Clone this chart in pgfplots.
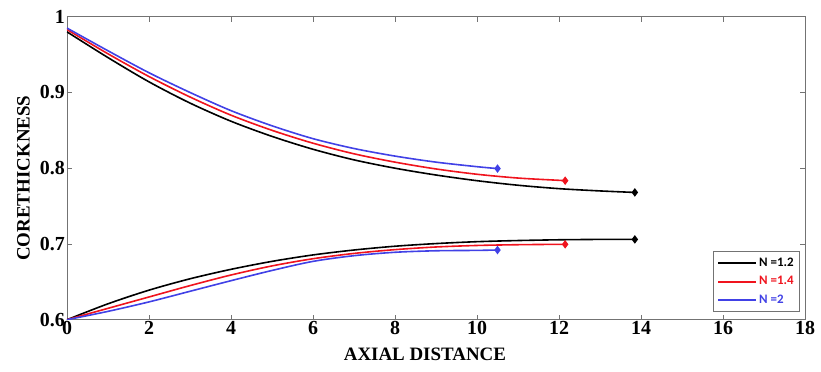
\documentclass[border=0pt]{standalone}
\usepackage{pgfplots}
\pgfplotsset{compat=1.18}
\usepackage{fontspec}
\setmainfont{Liberation Serif}
\newfontfamily\legfont{Carlito}
\usetikzlibrary{calc}
\definecolor{cred}{RGB}{240,20,30}
\definecolor{cblue}{RGB}{65,65,230}
\begin{document}
\begin{tikzpicture}
\begin{axis}[name=ax, scale only axis, width=738bp, height=303bp,
  xmin=0, xmax=18, ymin=0.6, ymax=1,
  xtick={0,2,4,6,8,10,12,14,16,18},
  xticklabels={0,2,4,6,8,10,12,14,16,18},
  ytick={0.6,0.7,0.8,0.9,1},
  yticklabels={0.6,0.7,0.8,0.9,1},
  ticklabel style={font=\bfseries\fontsize{20}{20}\selectfont},
  xticklabel style={inner sep=1bp},
  yticklabel style={inner sep=2bp},
  axis line style={draw=black!55, line width=0.8bp},
  tick style={draw=black!55, line width=0.8bp},
  major tick length=5bp,
  xlabel={AXIAL DISTANCE},
  ylabel={CORETHICKNESS},
  label style={font=\bfseries\fontsize{19}{19}\selectfont, inner sep=0pt},
  xlabel style={at={(axis description cs:0.485,0)}, anchor=north, yshift=-28.5bp},
  ylabel style={at={(axis description cs:-0.0501,0.467)}, anchor=south},
  legend style={at={(0.9932,0.026)}, anchor=south east, draw=black!55, line width=0.8bp,
    font=\legfont\bfseries\fontsize{13}{15}\selectfont, inner xsep=4bp, inner ysep=4bp, row sep=5bp},
  legend cell align=left,
  legend image code/.code={\draw[#1, mark=none, line width=2bp] (0bp,0bp) -- (38bp,0bp);},
]
% upper curves
\addplot[black, line width=1.6bp, smooth, mark=diamond*, mark size=3bp, mark options={solid}, mark indices={15}] coordinates {(0,0.980) (1,0.946) (2,0.914) (3,0.886) (4,0.862) (5,0.842) (6,0.825) (7,0.811) (8,0.800) (9,0.791) (10,0.7835) (11,0.7775) (12,0.773) (13,0.770) (13.85,0.768)};
\addlegendentry{\textcolor{black}{N =1.2}}
\addplot[cred, line width=1.6bp, smooth, mark=diamond*, mark size=3bp, mark options={solid}, mark indices={14}] coordinates {(0,0.983) (1,0.951) (2,0.921) (3,0.894) (4,0.870) (5,0.850) (6,0.833) (7,0.819) (8,0.808) (9,0.799) (10,0.792) (11,0.787) (12,0.784) (12.15,0.7835)};
\addlegendentry{\textcolor{cred}{N =1.4}}
\addplot[cblue, line width=1.6bp, smooth, mark=diamond*, mark size=3bp, mark options={solid}, mark indices={12}] coordinates {(0,0.985) (1,0.955) (2,0.926) (3,0.900) (4,0.876) (5,0.856) (6,0.839) (7,0.826) (8,0.816) (9,0.808) (10,0.802) (10.5,0.7995)};
\addlegendentry{\textcolor{cblue}{N =2}}
% lower curves
\addplot[black, line width=1.6bp, smooth, mark=diamond*, mark size=3bp, mark options={solid}, mark indices={15}, forget plot] coordinates {(0,0.600) (1,0.621) (2,0.639) (3,0.654) (4,0.6665) (5,0.677) (6,0.6855) (7,0.692) (8,0.697) (9,0.7005) (10,0.703) (11,0.7045) (12,0.7055) (13,0.706) (13.85,0.706)};
\addplot[cred, line width=1.6bp, smooth, mark=diamond*, mark size=3bp, mark options={solid}, mark indices={14}, forget plot] coordinates {(0,0.600) (1,0.615) (2,0.630) (3,0.645) (4,0.659) (5,0.671) (6,0.6805) (7,0.6875) (8,0.6925) (9,0.696) (10,0.698) (11,0.699) (12,0.6995) (12.15,0.6995)};
\addplot[cblue, line width=1.6bp, smooth, mark=diamond*, mark size=3bp, mark options={solid}, mark indices={12}, forget plot] coordinates {(0,0.600) (1,0.611) (2,0.6235) (3,0.6375) (4,0.6515) (5,0.665) (6,0.677) (7,0.6845) (8,0.689) (9,0.691) (10,0.6915) (10.5,0.692)};
\end{axis}
\pgfresetboundingbox
\path ($(ax.south west)+(-67bp,-51.5bp)$) rectangle ($(ax.north east)+(16bp,16.7bp)$);
\end{tikzpicture}
\end{document}
